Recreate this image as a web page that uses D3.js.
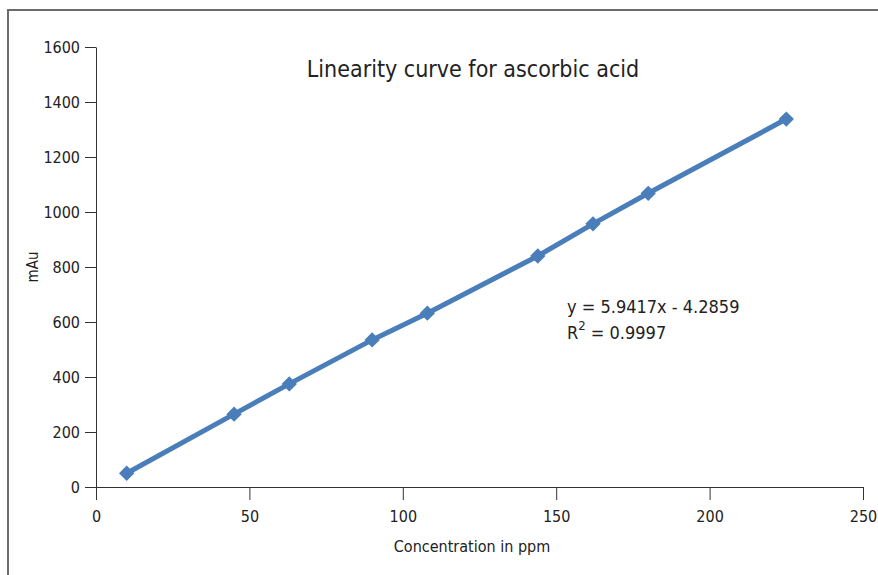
<!DOCTYPE html>
<html>
<head>
<meta charset="utf-8">
<script src="https://cdn.jsdelivr.net/npm/d3@7"></script>
<style>
  body { margin: 0; background: #fff; }
  svg text { font-family: "DejaVu Sans Condensed", "Roboto", sans-serif; fill: #222; }
</style>
</head>
<body>
<svg id="chart"></svg>
<script>
// values
let concentration = [10, 45, 63, 90, 108, 144, 162, 180, 225];
let response = [50, 265, 375, 535, 632, 840, 957, 1068, 1338];
let xTicks = [0, 50, 100, 150, 200, 250];
let yTicks = [0, 200, 400, 600, 800, 1000, 1200, 1400, 1600];

let width = 878, height = 575;
let margin = { left: 96, right: 15, top: 47, bottom: 88 };

let svg = d3.select("#chart")
    .attr("width", width)
    .attr("height", height);

// frame (cut off at right and bottom, like the original)
svg.append("path")
    .attr("d", "M8," + height + "V10H" + width)
    .attr("fill", "none")
    .attr("stroke", "#6b6b6b")
    .attr("stroke-width", 2);

let x = d3.scaleLinear()
    .domain([0, 250])
    .range([margin.left, width - margin.right]);

let y = d3.scaleLinear()
    .domain([0, 1600])
    .range([height - margin.bottom, margin.top]);

let xAxis = svg.append("g")
    .attr("transform", "translate(0," + y(0) + ")")
    .call(d3.axisBottom(x).tickValues(xTicks).tickFormat(d3.format("d"))
        .tickSize(13).tickSizeOuter(0).tickPadding(11));

let yAxis = svg.append("g")
    .attr("transform", "translate(" + x(0) + ",0)")
    .call(d3.axisLeft(y).tickValues(yTicks).tickFormat(d3.format("d"))
        .tickSize(11).tickSizeOuter(0).tickPadding(5));

[xAxis, yAxis].forEach(function (a) {
    a.select(".domain").attr("stroke", "#333");
    a.selectAll(".tick line").attr("stroke", "#333");
    a.selectAll(".tick text").attr("font-size", 16).attr("fill", "#222")
        .style("font-family", "'DejaVu Sans Condensed', sans-serif");
});

let line = d3.line()
    .x(function (d, i) { return x(concentration[i]) })
    .y(function (d) { return y(d) });

svg.append("path")
    .datum(response)
    .attr("d", line)
    .attr("fill", "none")
    .attr("stroke", "#4a7ebb")
    .attr("stroke-width", 5);

svg.selectAll(".pt")
    .data(response)
    .enter()
    .append("path")
    .attr("class", "pt")
    .attr("d", d3.symbol().type(d3.symbolDiamond2).size(150))
    .attr("transform", function (d, i) { return "translate(" + x(concentration[i]) + "," + y(d) + ")" })
    .attr("fill", "#4a7ebb");

svg.append("text")
    .attr("x", 473)
    .attr("y", 77)
    .attr("text-anchor", "middle")
    .attr("font-size", 23)
    .text("Linearity curve for ascorbic acid");

svg.append("text")
    .attr("x", 567)
    .attr("y", 313)
    .attr("font-size", 18)
    .text("y = 5.9417x - 4.2859");

let r2 = svg.append("text")
    .attr("x", 567)
    .attr("y", 339)
    .attr("font-size", 18);
r2.append("tspan").text("R");
r2.append("tspan").attr("dy", -9).attr("font-size", 13).text("2");
r2.append("tspan").attr("dy", 9).text(" = 0.9997");

svg.append("text")
    .attr("x", 472)
    .attr("y", 552)
    .attr("text-anchor", "middle")
    .attr("font-size", 16)
    .text("Concentration in ppm");

svg.append("text")
    .attr("transform", "translate(38,267)rotate(-90)")
    .attr("text-anchor", "middle")
    .attr("font-size", 15)
    .text("mAu");
</script>
</body>
</html>
